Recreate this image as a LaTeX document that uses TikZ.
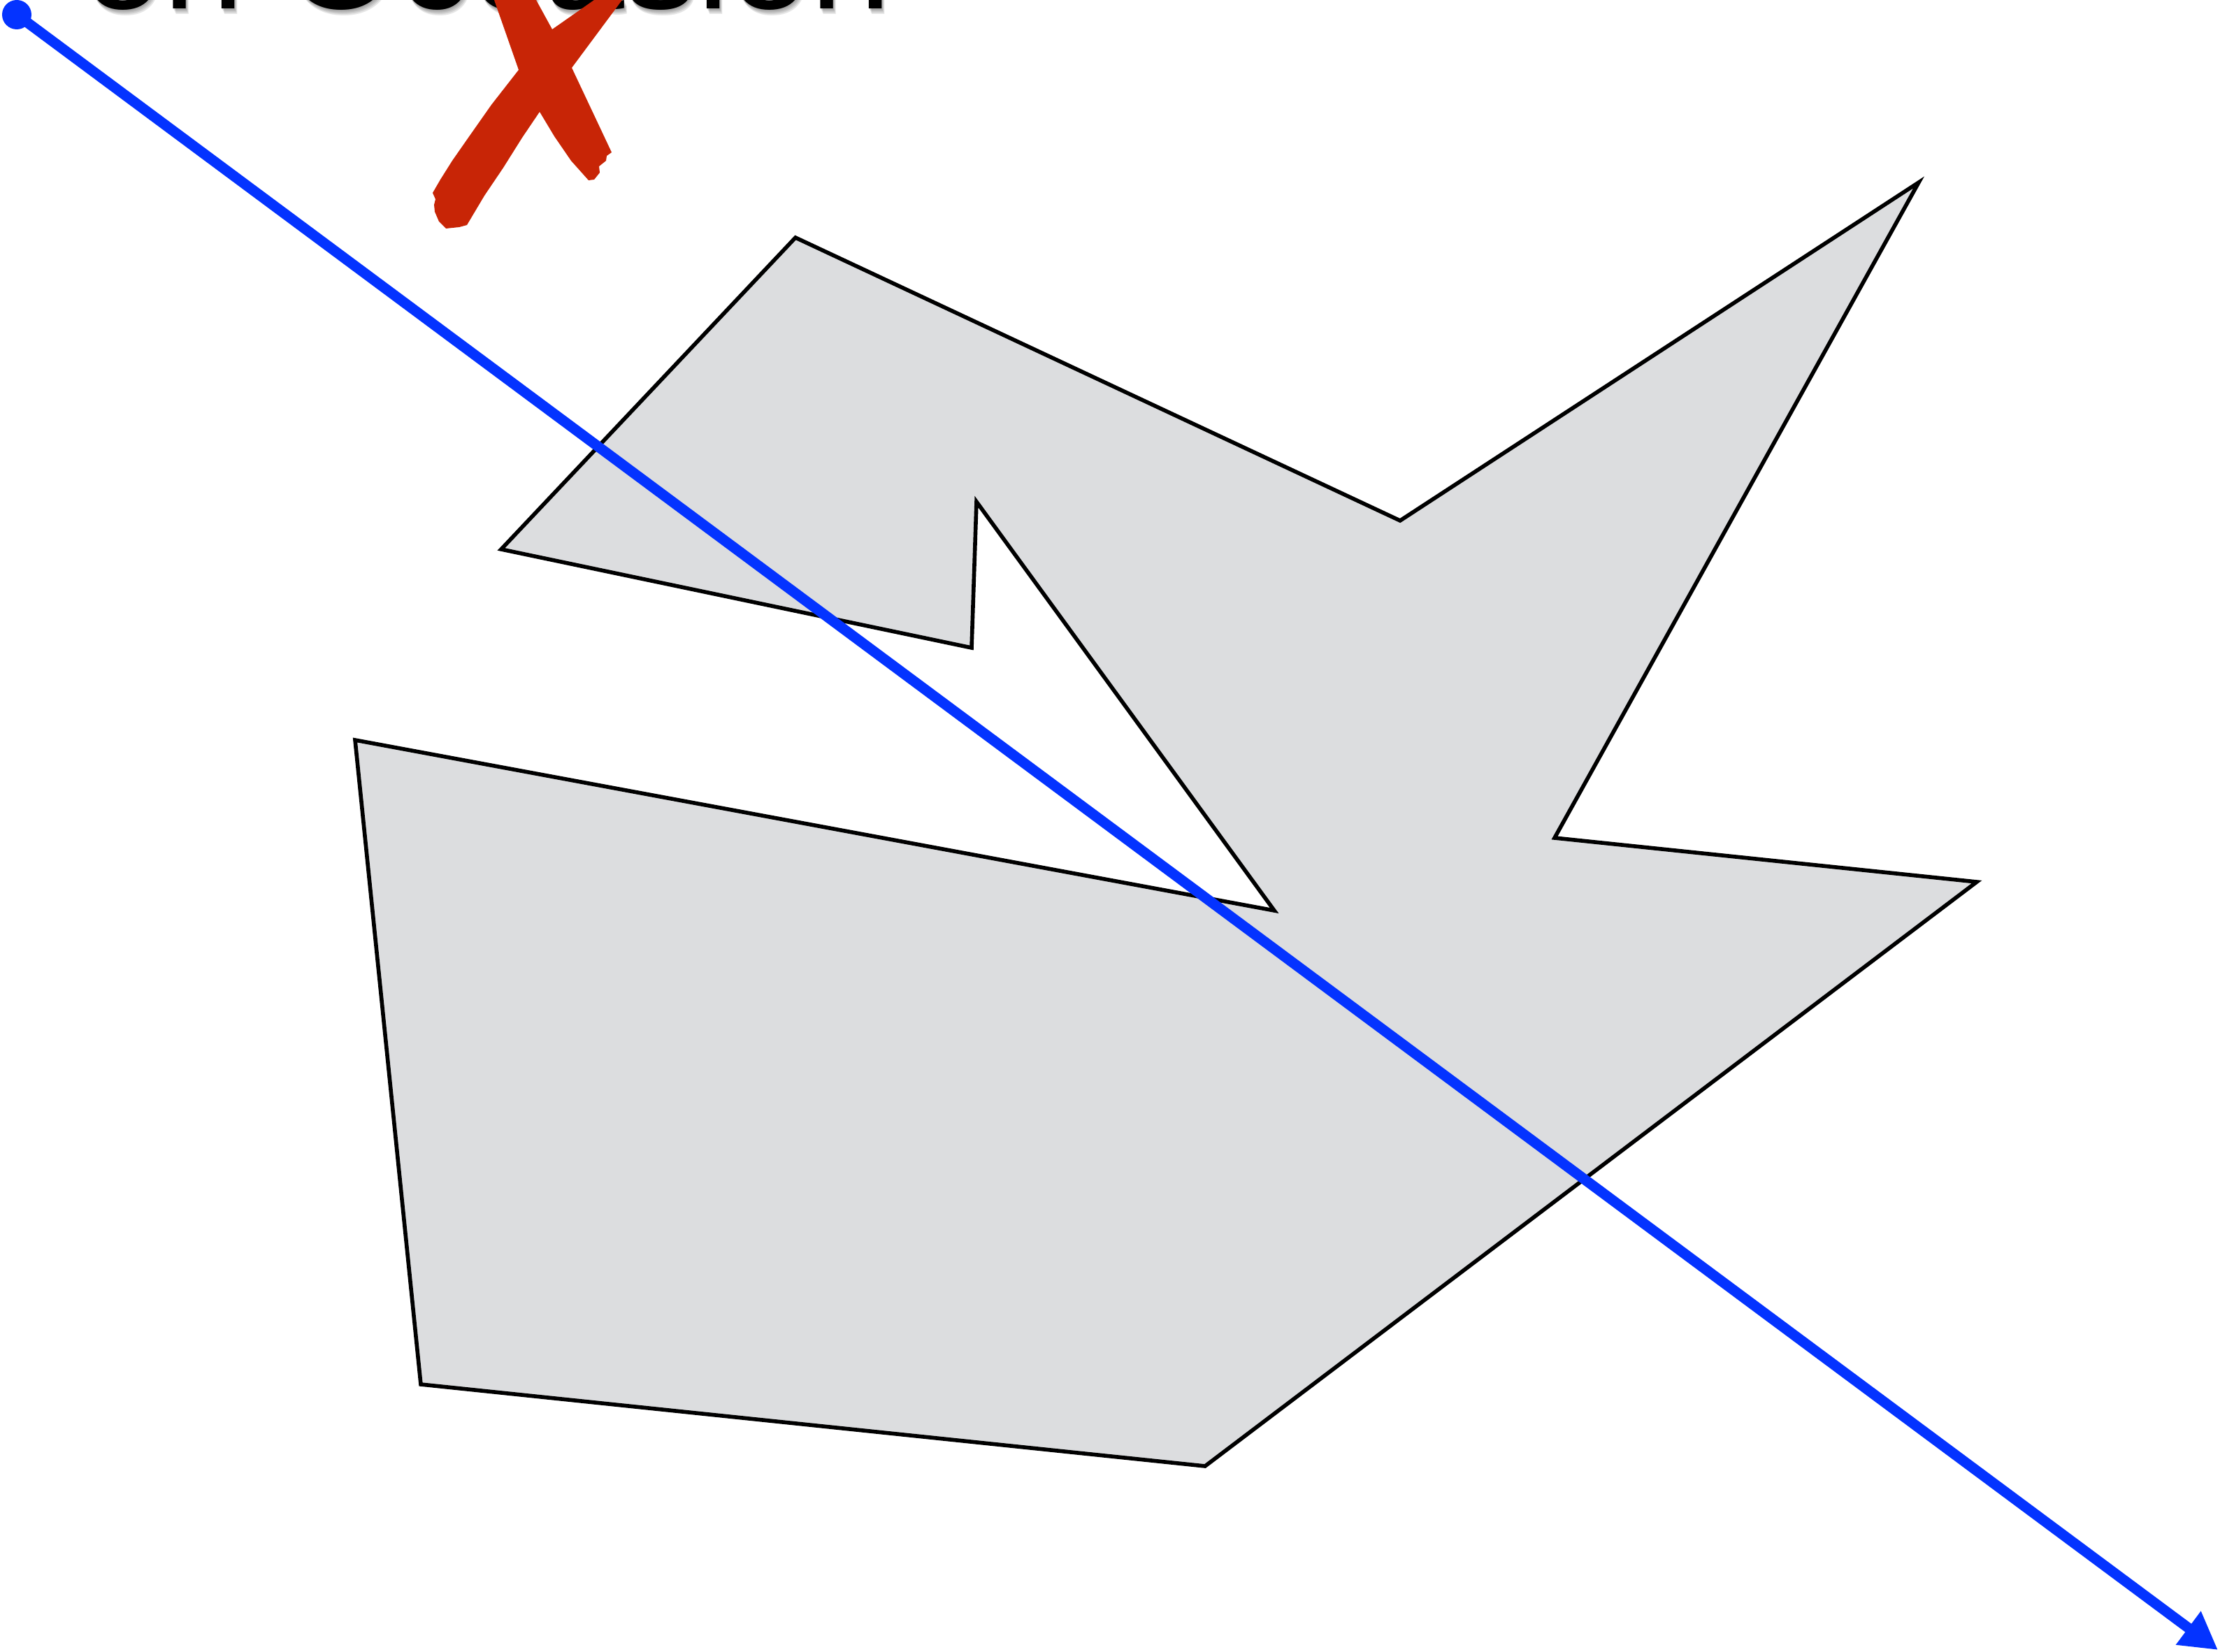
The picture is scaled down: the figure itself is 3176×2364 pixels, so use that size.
\documentclass[tikz,border=0pt]{standalone}
\usepackage{fontspec}
\setmainfont{Liberation Sans}
\usetikzlibrary{arrows.meta}
\definecolor{beam}{HTML}{0433FF}
\definecolor{veto}{HTML}{C82506}
\definecolor{shade}{HTML}{DCDDDF}

\begin{document}
\begin{tikzpicture}[
  x=0.01cm, y=-0.01cm,
  t/.style={anchor=base east, inner sep=0pt, font=\fontsize{59.2pt}{60pt}\selectfont},
  pg/.style={draw=black, fill=shade, line width=1.6pt, line join=miter},
  ar/.style={draw=beam, line width=4.2pt, -{Triangle[length=15pt, width=16pt]}},
  br/.style={fill=veto}
]
\useasboundingbox (0,0) rectangle (3176,2364);
\foreach \d in {2,4,6,8}
  \node[t, text=black, opacity=0.1] at (1276+0.5*\d, 13+\d) {on Occasion};
\node[t] (title) at (1276,13) {on Occasion};
\draw[pg] (1138,340) -- (2003,745) -- (2745,261) -- (2224,1199) -- (2828,1262)
  -- (1724,2098) -- (602,1981) -- (508,1059) -- (1823,1303) -- (1397,718)
  -- (1390,927) -- (717,786) -- cycle;
\coordinate (src) at (24,21);
\coordinate (dst) at (3173,2361);
\draw[ar] (src) -- (dst);
\fill[beam] (src) circle[radius=21];
\fill[br] (619,276) -- (630,257) -- (647,230) -- (670,197) -- (703,150) -- (742,100)
  -- (790,42) -- (850,0) -- (870,-20) -- (905,-20) -- (890,0) -- (818,97)
  -- (772,160) -- (747,197) -- (720,240) -- (693,280) -- (668,322) -- (657,325)
  -- (638,327) -- (628,317) -- (622,303) -- (621,293) -- (623,285) -- cycle;
\fill[br] (700,-20) -- (707,0) -- (742,100) -- (772,160) -- (793,195) -- (817,230)
  -- (842,258) -- (850,257) -- (858,247) -- (857,238) -- (867,230) -- (868,223)
  -- (875,218) -- (818,97) -- (790,42) -- (767,0) -- (757,-20) -- cycle;
\end{tikzpicture}
\end{document}
